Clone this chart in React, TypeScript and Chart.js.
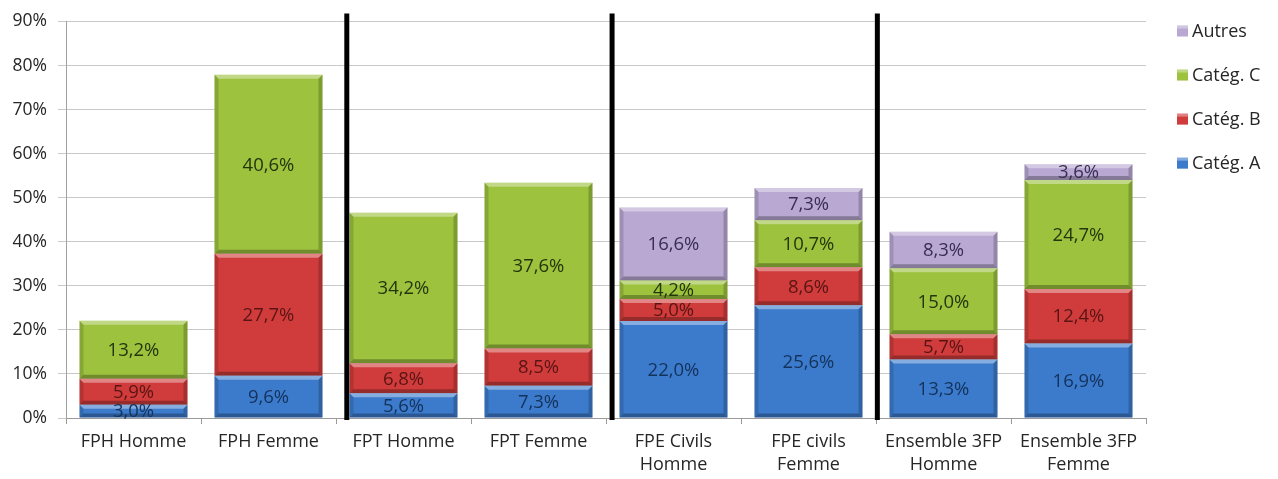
import React, { useEffect, useRef } from "react";
import { Chart, registerables } from "chart.js";

Chart.register(...registerables);

// ---- Data ----
const categories: (string | string[])[] = [
  "FPH Homme",
  "FPH Femme",
  "FPT Homme",
  "FPT Femme",
  ["FPE Civils", "Homme"],
  ["FPE civils", "Femme"],
  ["Ensemble 3FP", "Homme"],
  ["Ensemble 3FP", "Femme"],
];
const categA = [3.0, 9.6, 5.6, 7.3, 22.0, 25.6, 13.3, 16.9];
const categB = [5.9, 27.7, 6.8, 8.5, 5.0, 8.6, 5.7, 12.4];
const categC = [13.2, 40.6, 34.2, 37.6, 4.2, 10.7, 15.0, 24.7];
const autres = [0, 0, 0, 0, 16.6, 7.3, 8.3, 3.6];
const seriesNames = ["Catég. A", "Catég. B", "Catég. C", "Autres"];
const yMin = 0;
const yMax = 90;
const yStep = 10;
// separators placed between category groups (in category-index units)
const separatorPositions = [1.58, 3.545, 5.51];

const FONT = "'Open Sans', 'DejaVu Sans', sans-serif";
const fills = ["#3c7bcb", "#cf3c3b", "#9cc23e", "#b8a8d2"];
const labelColors = ["#14325c", "#5a1414", "#24360c", "#3a2d52"];

function fmt(v: number) {
  return v.toFixed(1).replace(".", ",") + "%";
}

const barDecorPlugin = {
  id: "barDecor",
  afterDatasetsDraw(chart: any) {
    const ctx = chart.ctx;
    // bevel
    chart.data.datasets.forEach((ds: any, di: number) => {
      const meta = chart.getDatasetMeta(di);
      meta.data.forEach((el: any, i: number) => {
        const v = ds.data[i];
        if (!v) return;
        const w = el.width;
        const x0 = el.x - w / 2;
        const x1 = el.x + w / 2;
        const y0 = Math.min(el.y, el.base);
        const y1 = Math.max(el.y, el.base);
        const h = y1 - y0;
        if (h < 1) return;
        const b = Math.min(4, h / 3);
        ctx.save();
        ctx.fillStyle = "rgba(255,255,255,0.38)";
        ctx.beginPath();
        ctx.moveTo(x0, y0);
        ctx.lineTo(x1, y0);
        ctx.lineTo(x1 - b, y0 + b);
        ctx.lineTo(x0 + b, y0 + b);
        ctx.closePath();
        ctx.fill();
        ctx.fillStyle = "rgba(0,0,0,0.28)";
        ctx.beginPath();
        ctx.moveTo(x0, y1);
        ctx.lineTo(x1, y1);
        ctx.lineTo(x1 - b, y1 - b);
        ctx.lineTo(x0 + b, y1 - b);
        ctx.closePath();
        ctx.fill();
        ctx.fillStyle = "rgba(0,0,0,0.14)";
        ctx.beginPath();
        ctx.moveTo(x0, y0);
        ctx.lineTo(x0 + b, y0 + b);
        ctx.lineTo(x0 + b, y1 - b);
        ctx.lineTo(x0, y1);
        ctx.closePath();
        ctx.fill();
        ctx.fillStyle = "rgba(0,0,0,0.2)";
        ctx.beginPath();
        ctx.moveTo(x1, y0);
        ctx.lineTo(x1 - b, y0 + b);
        ctx.lineTo(x1 - b, y1 - b);
        ctx.lineTo(x1, y1);
        ctx.closePath();
        ctx.fill();
        ctx.restore();
      });
    });
    // data labels
    chart.data.datasets.forEach((ds: any, di: number) => {
      const meta = chart.getDatasetMeta(di);
      meta.data.forEach((el: any, i: number) => {
        const v = ds.data[i];
        if (!v) return;
        ctx.save();
        ctx.font = `18.5px ${FONT}`;
        ctx.fillStyle = labelColors[di];
        ctx.textAlign = "center";
        ctx.textBaseline = "middle";
        ctx.fillText(fmt(v), el.x, (el.y + el.base) / 2 + 1);
        ctx.restore();
      });
    });
    // separators
    const xs = chart.scales.x;
    const area = chart.chartArea;
    ctx.save();
    ctx.strokeStyle = "#000";
    ctx.lineWidth = 5;
    separatorPositions.forEach((p) => {
      const x = xs.getPixelForValue(p);
      ctx.beginPath();
      ctx.moveTo(x, area.top - 8);
      ctx.lineTo(x, area.bottom + 2);
      ctx.stroke();
    });
    ctx.restore();
  },
  afterDraw(chart: any) {
    const ctx = chart.ctx;
    const area = chart.chartArea;
    const ys = chart.scales.y;
    const spacing = ys.getPixelForValue(0) - ys.getPixelForValue(yStep);
    const order = [3, 2, 1, 0];
    ctx.save();
    order.forEach((di, k) => {
      const cy = area.top + 9 + k * spacing;
      const bx = area.right + 31;
      ctx.fillStyle = fills[di];
      ctx.fillRect(bx, cy - 5, 11, 11);
      ctx.fillStyle = "rgba(255,255,255,0.35)";
      ctx.fillRect(bx, cy - 5, 11, 3);
      ctx.fillStyle = "#262626";
      ctx.font = `18px ${FONT}`;
      ctx.textAlign = "left";
      ctx.textBaseline = "middle";
      ctx.fillText(seriesNames[di], bx + 15, cy + 1);
    });
    ctx.restore();
  },
};

export default function App() {
  const ref = useRef<HTMLCanvasElement | null>(null);
  useEffect(() => {
    document.body.style.margin = "0";
    const canvas = ref.current;
    if (!canvas) return;
    const all = [categA, categB, categC, autres];
    const chart = new Chart(canvas, {
      type: "bar",
      data: {
        labels: categories as any,
        datasets: all.map((d, i) => ({
          label: seriesNames[i],
          data: d,
          backgroundColor: fills[i],
          borderWidth: 0,
          barPercentage: 0.8,
          categoryPercentage: 1.0,
        })),
      },
      options: {
        animation: false,
        responsive: false,
        devicePixelRatio: 1,
        layout: { padding: { top: 18, right: 132, left: 0, bottom: 0 } },
        plugins: {
          legend: { display: false },
          tooltip: { enabled: false },
        },
        scales: {
          x: {
            stacked: true,
            grid: {
              offset: true,
              drawOnChartArea: false,
              tickLength: 6,
              color: "#9a9a9a",
            },
            border: { display: true, color: "#9a9a9a" },
            ticks: {
              font: { family: FONT, size: 18, lineHeight: 1.3 },
              color: "#262626",
              padding: 6,
              maxRotation: 0,
              autoSkip: false,
            },
            afterFit(scale: any) {
              scale.height = 61;
            },
          },
          y: {
            stacked: true,
            min: yMin,
            max: yMax,
            ticks: {
              stepSize: yStep,
              font: { family: FONT, size: 17.5 },
              color: "#262626",
              padding: 11,
              callback: (v: any) => `${v}%`,
            },
            grid: { color: "#c8c8c8", tickLength: 8 },
            border: { display: true, color: "#a0a0a0" },
            afterFit(scale: any) {
              scale.width = 66;
            },
          },
        },
      },
      plugins: [barDecorPlugin],
    });
    return () => chart.destroy();
  }, []);
  return (
    <div style={{ width: 1278, height: 479 }}>
      <canvas ref={ref} width={1278} height={479} style={{ display: "block" }} />
    </div>
  );
}
